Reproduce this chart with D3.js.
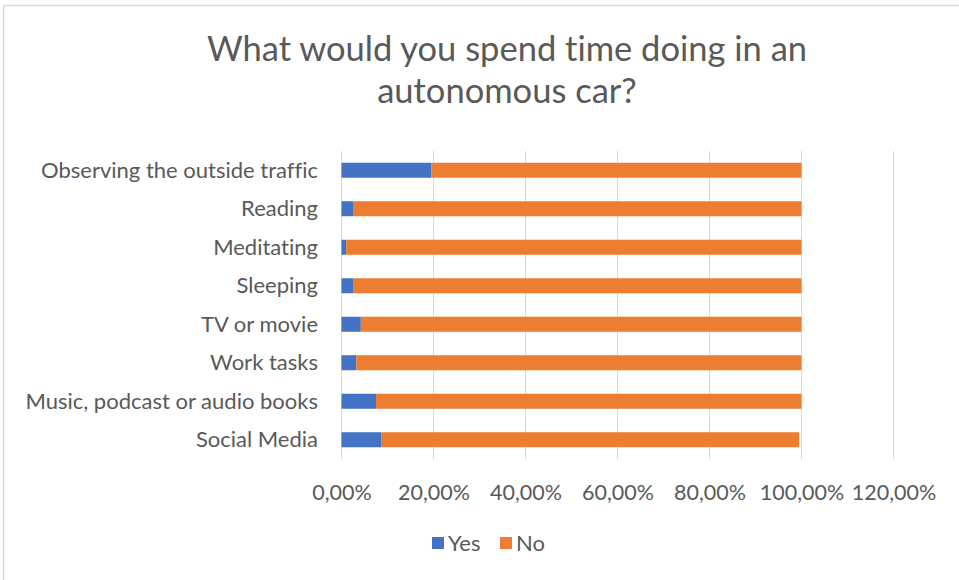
<!DOCTYPE html>
<html>
<head>
<meta charset="utf-8">
<script src="https://cdn.jsdelivr.net/npm/d3@7"></script>
<style>
  body { margin: 0; background: #fff; }
  svg { display: block; font-family: Lato, "Open Sans", sans-serif; font-variant-ligatures: none; }
</style>
</head>
<body>
<svg id="chart" width="959" height="580"></svg>
<script>
// Survey answers per activity (share of respondents, %)
const categories = [
  "Observing the outside traffic",
  "Reading",
  "Meditating",
  "Sleeping",
  "TV or movie",
  "Work tasks",
  "Music, podcast or audio books",
  "Social Media"
];
const yesValues = [19.5, 2.5, 1.0, 2.5, 4.2, 3.2, 7.5, 8.6];
const noValues  = [80.5, 97.5, 99.0, 97.5, 95.8, 96.8, 92.5, 90.9];
const seriesNames = ["Yes", "No"];
const seriesColors = ["#4472c4", "#ed7d31"];
const tickValues = [0, 20, 40, 60, 80, 100, 120];
const titleLines = ["What would you spend time doing in an", "autonomous car?"];

const svg = d3.select("#chart");
const W = 959, H = 580;
const margin = { left: 341.5, right: 65.5, top: 151, bottom: 121 };
const textColor = "#595959";

// frame lines
svg.append("line").attr("x1", 3.5).attr("x2", W).attr("y1", 5.5).attr("y2", 5.5)
  .attr("stroke", "#d9d9d9").attr("stroke-width", 1.5);
svg.append("line").attr("x1", 3.5).attr("x2", 3.5).attr("y1", 5.5).attr("y2", H)
  .attr("stroke", "#d9d9d9").attr("stroke-width", 1.5);

// title
svg.append("g").selectAll("text").data(titleLines).join("text")
  .attr("x", 507).attr("y", (d, i) => 61 + i * 42)
  .attr("text-anchor", "middle")
  .attr("font-size", 34.5).attr("fill", textColor)
  .text(d => d);

const x = d3.scaleLinear().domain([0, 120]).range([margin.left, W - margin.right]);
const y = d3.scaleBand().domain(categories)
  .range([margin.top, H - margin.bottom]).paddingInner(0.61).paddingOuter(0.305);

// vertical gridlines
svg.append("g").selectAll("line").data(tickValues).join("line")
  .attr("x1", d => x(d)).attr("x2", d => x(d))
  .attr("y1", margin.top).attr("y2", H - margin.bottom)
  .attr("stroke", "#d9d9d9").attr("stroke-width", 1);

// stacked bars
const rows = categories.map((c, i) => ({ cat: c, Yes: yesValues[i], No: noValues[i] }));
const stack = d3.stack().keys(seriesNames)(rows);
svg.append("g").selectAll("g").data(stack).join("g")
  .attr("fill", (d, i) => seriesColors[i])
  .selectAll("rect").data(d => d).join("rect")
  .attr("x", d => x(d[0]))
  .attr("width", d => x(d[1]) - x(d[0]))
  .attr("y", d => y(d.data.cat))
  .attr("height", y.bandwidth());

// category axis labels
svg.append("g").selectAll("text").data(categories).join("text")
  .attr("x", 318).attr("y", d => y(d) + y.bandwidth() / 2)
  .attr("dy", "0.35em").attr("text-anchor", "end")
  .attr("font-size", 22).attr("fill", textColor)
  .text(d => d);

// value axis
const fmt = v => d3.format(".2f")(v).replace(".", ",") + "%";
const xAxis = svg.append("g")
  .attr("transform", `translate(0,${H - margin.bottom})`)
  .call(d3.axisBottom(x).tickValues(tickValues).tickFormat(fmt).tickSize(0).tickPadding(26));
xAxis.select(".domain").remove();
xAxis.selectAll("text").attr("font-size", 21.5).attr("fill", textColor)
  .attr("font-family", "Lato, 'Open Sans', sans-serif");

// legend
const legend = svg.append("g").attr("transform", "translate(432,543)");
const items = [{ name: "Yes", x: 0 }, { name: "No", x: 68 }];
items.forEach((it, i) => {
  legend.append("rect").attr("x", it.x).attr("y", -6).attr("width", 12).attr("height", 12)
    .attr("fill", seriesColors[i]);
  legend.append("text").attr("x", it.x + 16).attr("y", 0).attr("dy", "0.35em")
    .attr("font-size", 22).attr("fill", textColor).text(it.name);
});
</script>
</body>
</html>
